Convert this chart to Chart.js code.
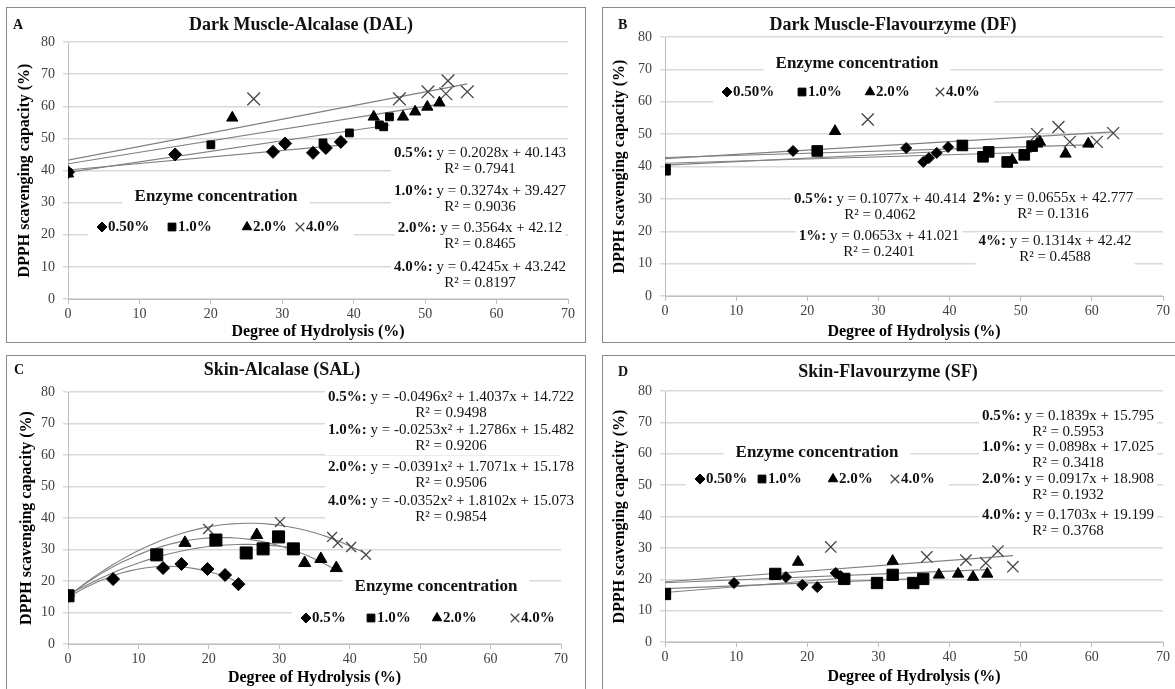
<!DOCTYPE html>
<html>
<head>
<meta charset="utf-8">
<script src="https://cdn.jsdelivr.net/npm/chart.js@4.4.1/dist/chart.umd.min.js"></script>
<style>
  body { margin: 0; background: #fff; width: 1175px; height: 689px; overflow: hidden; position: relative; }
  .frame { position: absolute; border: 1px solid #8c8c8c; box-sizing: border-box; }
  canvas { position: absolute; }
</style>
</head>
<body>
<div class="frame" style="left:6px;top:7px;width:580px;height:336px"></div>
<div class="frame" style="left:602px;top:7px;width:575px;height:336px"></div>
<div class="frame" style="left:6px;top:355px;width:580px;height:340px"></div>
<div class="frame" style="left:602px;top:355px;width:575px;height:340px"></div>
<canvas id="cA" width="578" height="335" style="left:7px;top:7px"></canvas>
<canvas id="cB" width="572" height="335" style="left:603px;top:7px"></canvas>
<canvas id="cC" width="578" height="334" style="left:7px;top:355px"></canvas>
<canvas id="cD" width="572" height="334" style="left:603px;top:355px"></canvas>
<script>
// axis ticks (both axes are the same on all four panels)
const xTicks = [0, 10, 20, 30, 40, 50, 60, 70];
const yTicks = [0, 10, 20, 30, 40, 50, 60, 70, 80];

// A - Dark Muscle-Alcalase (DAL): [degree of hydrolysis %, DPPH %]
const dal05 = [[0, 39.5], [15, 45.0], [28.7, 45.8], [30.4, 48.4], [34.3, 45.5], [36.1, 47.0], [38.2, 48.9]];
const dal10 = [[0, 39.3], [20, 48.0], [35.7, 48.6], [39.4, 51.7], [43.6, 54.2], [44.2, 53.6], [45.0, 56.7]];
const dal20 = [[0, 39.0], [23, 56.4], [42.8, 56.7], [46.9, 56.7], [48.6, 58.3], [50.3, 59.8], [52.0, 61.1]];
const dal40 = [[26, 62.3], [46.4, 62.3], [50.4, 64.5], [52.9, 63.9], [53.2, 67.9], [55.9, 64.5]];
const dalFit = [[0.2028, 40.143], [0.3274, 39.427], [0.3564, 42.12], [0.4245, 43.242]];
const dalR2 = ['0.7941', '0.9036', '0.8465', '0.8197'];

// B - Dark Muscle-Flavourzyme (DF)
const df05 = [[0, 39.0], [18, 44.8], [33.9, 45.7], [36.3, 41.4], [37.1, 42.6], [38.2, 44.2], [39.8, 46.0]];
const df10 = [[0, 39.0], [21.4, 44.8], [41.8, 46.5], [44.7, 43.0], [45.5, 44.5], [48.1, 41.4], [50.5, 43.6], [51.6, 46.3]];
const df20 = [[23.9, 50.9], [48.8, 42.0], [52.3, 47.0], [52.7, 47.6], [56.3, 43.9], [59.5, 47.0]];
const df40 = [[28.5, 54.5], [52.3, 50.0], [55.3, 52.2], [56.9, 47.6], [60.7, 47.6], [63.0, 50.3]];
const dfFit = [[0.1077, 40.414], [0.0653, 41.021], [0.0655, 42.777], [0.1314, 42.42]];
const dfR2 = ['0.4062', '0.2401', '0.1316', '0.4588'];

// C - Skin-Alcalase (SAL), second-order fits
const sal05 = [[0, 15.3], [6.4, 20.6], [13.5, 24.1], [16.1, 25.4], [19.8, 23.8], [22.3, 21.9], [24.2, 19.0]];
const sal10 = [[0, 15.3], [12.6, 28.3], [21.0, 33.0], [25.3, 28.9], [27.7, 30.2], [29.9, 34.0], [32.0, 30.2]];
const sal20 = [[16.6, 32.1], [26.8, 34.6], [33.6, 25.7], [35.9, 27.0], [38.1, 24.1]];
const sal40 = [[19.9, 36.5], [30.1, 38.7], [37.5, 34.0], [38.3, 32.1], [40.2, 30.8], [42.3, 28.3]];
const salFit = [[-0.0496, 1.4037, 14.722], [-0.0253, 1.2786, 15.482], [-0.0391, 1.7071, 15.178], [-0.0352, 1.8102, 15.073]];
const salR2 = ['0.9498', '0.9206', '0.9506', '0.9854'];

// D - Skin-Flavourzyme (SF)
const sf05 = [[0, 15.3], [9.7, 18.8], [17.0, 20.7], [19.3, 18.2], [21.4, 17.5], [24.0, 22.0], [24.7, 21.0]];
const sf10 = [[0, 15.3], [15.5, 21.7], [25.2, 20.1], [29.8, 18.8], [32.0, 21.4], [34.9, 18.8], [36.3, 20.1]];
const sf20 = [[18.7, 25.5], [32.0, 25.8], [38.5, 21.4], [41.2, 21.7], [43.3, 20.7], [45.3, 21.7]];
const sf40 = [[23.3, 30.3], [36.8, 27.1], [42.3, 26.1], [45.1, 25.2], [46.8, 29.0], [48.9, 24.0]];
const sfFit = [[0.1839, 15.795], [0.0898, 17.025], [0.0917, 18.908], [0.1703, 19.199]];
const sfR2 = ['0.5953', '0.3418', '0.1932', '0.3768'];

const Y_TITLE = 'DPPH scavenging capacity (%)';
const X_TITLE = 'Degree of Hydrolysis (%)';
const LEGEND_TITLE = 'Enzyme concentration';
const SERIF = "'Liberation Serif', 'Times New Roman', serif";
const AX_FONT = 16;
const AX_HALF = AX_FONT * 1.2 / 2;
const EQ_FONT = 15;
const markerStyles = ['rectRot', 'rect', 'triangle', 'crossRot'];

const panels = [
  { canvas: 'cA', letter: 'A', title: 'Dark Muscle-Alcalase (DAL)',
    series: [dal05, dal10, dal20, dal40], fit: dalFit, r2: dalR2,
    eqTags: ['0.5%:', '1.0%:', '2.0%:', '4.0%:'], legendLabels: ['0.50%', '1.0%', '2.0%', '4.0%'],
    radius: [6.5, 5.5, 6.5, 9],
    w: 578, h: 335, area: { l: 61, r: 561, t: 35, b: 292 }, yTitleX: 18, xTitleY: 325,
    titlePos: [294, 18], letterPos: [6, 18],
    eqPos: [[473, 146], [473, 184], [473, 221], [473, 260]],
    legendTitle: [209, 190], legendY: 220, legendX: [95, 165, 240, 293] },
  { canvas: 'cB', letter: 'B', title: 'Dark Muscle-Flavourzyme (DF)',
    series: [df05, df10, df20, df40], fit: dfFit, r2: dfR2,
    eqTags: ['0.5%:', '1%:', '2%:', '4%:'], legendLabels: ['0.50%', '1.0%', '2.0%', '4.0%'],
    radius: [5.5, 7.5, 6.5, 8.5],
    w: 572, h: 335, area: { l: 62, r: 560, t: 30, b: 289 }, yTitleX: 17, xTitleY: 325,
    titlePos: [290, 18], letterPos: [15, 18],
    eqPos: [[277, 192], [276, 229], [450, 191], [452, 234]],
    legendTitle: [254, 57], legendY: 85, legendX: [124, 199, 267, 337] },
  { canvas: 'cC', letter: 'C', title: 'Skin-Alcalase (SAL)',
    series: [sal05, sal10, sal20, sal40], fit: salFit, r2: salR2,
    eqTags: ['0.5%:', '1.0%:', '2.0%:', '4.0%:'], legendLabels: ['0.5%', '1.0%', '2.0%', '4.0%'],
    radius: [6.5, 8.5, 7, 7],
    w: 578, h: 334, area: { l: 61, r: 554, t: 37, b: 289 }, yTitleX: 20, xTitleY: 323,
    titlePos: [275, 15], letterPos: [7, 15],
    eqPos: [[444, 42], [444, 75], [444, 112], [444, 146]],
    legendTitle: [429, 232], legendY: 263, legendX: [299, 364, 430, 508] },
  { canvas: 'cD', letter: 'D', title: 'Skin-Flavourzyme (SF)',
    series: [sf05, sf10, sf20, sf40], fit: sfFit, r2: sfR2,
    eqTags: ['0.5%:', '1.0%:', '2.0%:', '4.0%:'], legendLabels: ['0.50%', '1.0%', '2.0%', '4.0%'],
    radius: [5.5, 8, 6.5, 8],
    w: 572, h: 334, area: { l: 62, r: 560, t: 36, b: 287 }, yTitleX: 17, xTitleY: 322,
    titlePos: [285, 17], letterPos: [15, 17],
    eqPos: [[465, 61], [465, 92], [465, 124], [465, 160]],
    legendTitle: [214, 98], legendY: 124, legendX: [97, 159, 230, 292] }
];

function fitText(f) {
  if (f.length === 3) return 'y = ' + f[0] + 'x² + ' + f[1] + 'x + ' + f[2];
  return 'y = ' + f[0] + 'x + ' + f[1];
}
function fitY(f, x) {
  return f.length === 3 ? f[0] * x * x + f[1] * x + f[2] : f[0] * x + f[1];
}
// trendline spans 0 .. last hydrolysis value of its series
function trendPoints(f, pts) {
  const xMax = Math.max(...pts.map(p => p[0]));
  const n = f.length === 3 ? 40 : 1;
  const out = [];
  for (let i = 0; i <= n; i++) {
    const x = xMax * i / n;
    out.push({ x: x, y: fitY(f, x) });
  }
  return out;
}

function drawMarker(ctx, style, x, y, r) {
  ctx.fillStyle = '#000';
  ctx.strokeStyle = style === 'crossRot' ? '#444' : '#000';
  ctx.lineWidth = style === 'crossRot' ? 1.2 : 1;
  Chart.helpers.drawPoint(ctx, { pointStyle: style, radius: r, borderWidth: ctx.lineWidth, rotation: 0 }, x, y);
}

function makeTextPlugin(p) {
  return {
    id: 'panelText' + p.letter,
    beforeDatasetsDraw(chart) {
      const ctx = chart.ctx;
      ctx.save();
      ctx.textBaseline = 'middle';
      // trendline equations, white boxes hide the gridlines behind them
      p.fit.forEach((f, i) => {
        const [cx, cy] = p.eqPos[i];
        const rest = ' ' + fitText(f);
        const r2 = 'R² = ' + p.r2[i];
        ctx.font = 'bold ' + EQ_FONT + 'px ' + SERIF;
        const wTag = ctx.measureText(p.eqTags[i]).width;
        ctx.font = EQ_FONT + 'px ' + SERIF;
        const wRest = ctx.measureText(rest).width;
        const wR2 = ctx.measureText(r2).width;
        const wEq = wTag + wRest;
        const wBox = Math.max(wEq, wR2);
        ctx.fillStyle = '#fff';
        ctx.fillRect(cx - wBox / 2 - 3, cy - 9, wBox + 6, 34);
        ctx.fillStyle = '#111';
        ctx.textAlign = 'left';
        ctx.font = 'bold ' + EQ_FONT + 'px ' + SERIF;
        ctx.fillText(p.eqTags[i], cx - wEq / 2, cy);
        ctx.font = EQ_FONT + 'px ' + SERIF;
        ctx.fillText(rest, cx - wEq / 2 + wTag, cy);
        ctx.textAlign = 'center';
        ctx.fillText(r2, cx, cy + 16);
      });
      // legend
      ctx.font = 'bold 17px ' + SERIF;
      const wt = ctx.measureText(LEGEND_TITLE).width;
      ctx.fillStyle = '#fff';
      ctx.fillRect(p.legendTitle[0] - wt / 2 - 12, p.legendTitle[1] - 11, wt + 24, 22);
      ctx.font = 'bold 15px ' + SERIF;
      const lastW = ctx.measureText(p.legendLabels[3]).width;
      const x0 = p.legendX[0] - 14, x1 = p.legendX[3] + 6 + lastW + 14;
      ctx.fillRect(x0, p.legendY - 12, x1 - x0, 26);
      ctx.fillStyle = '#111';
      ctx.textAlign = 'center';
      ctx.font = 'bold 17px ' + SERIF;
      ctx.fillText(LEGEND_TITLE, p.legendTitle[0], p.legendTitle[1]);
      ctx.font = 'bold 15px ' + SERIF;
      ctx.textAlign = 'left';
      p.legendLabels.forEach((lab, i) => {
        const mx = p.legendX[i];
        const rr = [5, 5.5, 5.5, 6][i];
        drawMarker(ctx, markerStyles[i], mx, p.legendY, rr);
        ctx.fillStyle = '#111';
        ctx.fillText(lab, mx + 6, p.legendY);
      });
      // panel letter and title
      ctx.font = 'bold 14px ' + SERIF;
      ctx.fillText(p.letter, p.letterPos[0], p.letterPos[1]);
      ctx.font = 'bold 18px ' + SERIF;
      ctx.textAlign = 'center';
      ctx.fillText(p.title, p.titlePos[0], p.titlePos[1]);
      ctx.restore();
    }
  };
}

panels.forEach(p => {
  const datasets = [];
  p.series.forEach((pts, i) => {
    datasets.push({
      label: p.legendLabels[i],
      data: pts.map(d => ({ x: d[0], y: d[1] })),
      pointStyle: markerStyles[i],
      pointRadius: p.radius[i],
      pointBackgroundColor: '#000',
      pointBorderColor: i === 3 ? '#444' : '#000',
      pointBorderWidth: i === 3 ? 1.3 : 1,
      showLine: false,
      order: 0
    });
  });
  p.fit.forEach((f, i) => {
    datasets.push({
      label: 'fit ' + p.legendLabels[i],
      data: trendPoints(f, p.series[i]),
      showLine: true,
      pointRadius: 0,
      borderColor: '#808080',
      borderWidth: 1.1,
      tension: 0,
      order: 1
    });
  });

  new Chart(document.getElementById(p.canvas), {
    type: 'scatter',
    data: { datasets: datasets },
    plugins: [makeTextPlugin(p)],
    options: {
      responsive: false,
      animation: false,
      events: [],
      layout: {
        padding: {
          left: p.yTitleX - AX_HALF,
          top: p.area.t,
          right: p.w - p.area.r,
          bottom: p.h - p.xTitleY - AX_HALF
        }
      },
      plugins: { legend: { display: false }, tooltip: { enabled: false } },
      scales: {
        x: {
          type: 'linear', min: 0, max: 70,
          afterBuildTicks: s => { s.ticks = xTicks.map(v => ({ value: v })); },
          afterFit: s => { s.height = p.xTitleY + AX_HALF - p.area.b; },
          grid: { drawOnChartArea: false, drawTicks: true, tickLength: 5, color: '#bfbfbf' },
          border: { color: '#bfbfbf', width: 1 },
          ticks: { font: { family: SERIF, size: 14 }, color: '#404040', padding: 2, maxRotation: 0 },
          title: { display: true, text: X_TITLE, font: { family: SERIF, size: AX_FONT, weight: 'bold' }, color: '#000', padding: 0 }
        },
        y: {
          type: 'linear', min: 0, max: 80,
          afterBuildTicks: s => { s.ticks = yTicks.map(v => ({ value: v })); },
          afterFit: s => { s.width = p.area.l - (p.yTitleX - AX_HALF); },
          grid: { drawTicks: true, tickLength: 5, color: '#d9d9d9', lineWidth: 1.5 },
          border: { color: '#bfbfbf', width: 1 },
          ticks: { font: { family: SERIF, size: 14 }, color: '#404040', padding: 8 },
          title: { display: true, text: Y_TITLE, font: { family: SERIF, size: AX_FONT, weight: 'bold' }, color: '#000', padding: 0 }
        }
      }
    }
  });
});
</script>
</body>
</html>
